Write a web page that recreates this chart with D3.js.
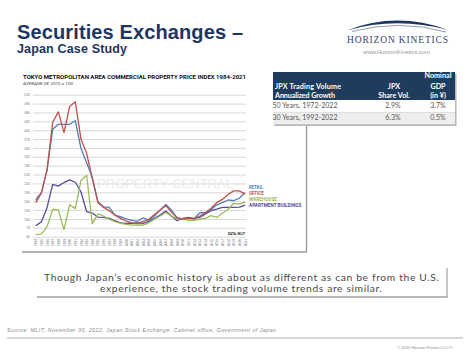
<!DOCTYPE html>
<html><head><meta charset="utf-8">
<script src="https://cdn.jsdelivr.net/npm/d3@7"></script>
<style>body{margin:0;background:#fff}svg{display:block}</style>
</head><body>
<script>
// ---- data ----
const years = [1984,1985,1986,1987,1988,1989,1990,1991,1992,1993,1994,1995,1996,1997,1998,1999,2000,2001,2002,2003,2004,2005,2006,2007,2008,2009,2010,2011,2012,2013,2014,2015,2016,2017,2018,2019,2020,2021];
const retail    = [165,189,265,403,420,420,420,432,339,290,241,158,141,139,113,108,100,95,92,104,95,110,130,149,130,104,100,104,100,121,121,132,147,155,164,162,170,189];
const office    = [155,187,265,427,462,392,480,496,370,322,237,155,139,128,113,102,93,87,85,92,99,115,130,145,123,104,100,102,100,110,121,136,155,166,183,195,195,184];
const warehouse = [48,49,74,132,131,63,148,135,230,247,84,117,110,99,91,85,82,79,80,79,87,99,110,122,110,100,100,95,95,99,102,111,105,119,132,153,150,157];
const apartment = [77,90,138,217,211,223,232,224,192,125,120,106,105,102,94,87,85,85,87,85,92,102,113,127,110,94,102,105,102,105,117,128,133,139,139,139,140,147];
const seriesNames = ["RETAIL","OFFICE","WAREHOUSE","APARTMENT BUILDINGS"];
const yTicks = [40,70,100,130,160,190,220,250,280,310,340,370,400,430,460,490,520];
const tableHeader = [["JPX Trading Volume","Annualized Growth"],["JPX","Share Vol."],["Nominal","GDP","(in ¥)"]];
const tableRows = [["50 Years, 1972-2022","2.9%","3.7%"],["30 Years, 1992-2022","6.3%","0.5%"]];

const W=474,H=355;
const svg=d3.select("body").append("svg").attr("width",W).attr("height",H);
const navy="#1d3660";

// ---- slide title ----
svg.append("text").attr("x",17).attr("y",39).attr("font-family","Liberation Sans, Arial, sans-serif")
  .attr("font-weight","bold").attr("font-size",20).attr("fill",navy).attr("textLength",226).attr("lengthAdjust","spacing")
  .text("Securities Exchanges –");
svg.append("text").attr("x",17).attr("y",53).attr("font-family","Liberation Sans, Arial, sans-serif")
  .attr("font-weight","bold").attr("font-size",12.5).attr("fill",navy).attr("textLength",110).attr("lengthAdjust","spacing")
  .text("Japan Case Study");

// ---- logo ----
svg.append("path").attr("d","M347,30.5 Q396,11 448,30 Q396,16.5 347,30.5 Z").attr("fill",navy);
svg.append("path").attr("d","M352,31.5 Q400,19 446,32").attr("fill","none").attr("stroke","#4a5a80").attr("stroke-width",0.6);
svg.append("text").attr("x",347).attr("y",43).attr("font-family","Liberation Serif, DejaVu Serif, serif")
  .attr("font-size",9.5).attr("fill","#36446a").attr("textLength",101).attr("lengthAdjust","spacing").text("HORIZON KINETICS");
svg.append("text").attr("x",363).attr("y",54).attr("font-family","Liberation Sans, Arial, sans-serif")
  .attr("font-size",6).attr("fill","#9a9a9a").attr("textLength",67).attr("lengthAdjust","spacing").text("www.HorizonKinetics.com");

// ---- chart image frame (shadow edges) ----
svg.append("line").attr("x1",22).attr("x2",307).attr("y1",252).attr("y2",252).attr("stroke","#9a9a9a").attr("stroke-width",1.3);
svg.append("line").attr("x1",306.5).attr("x2",306.5).attr("y1",120).attr("y2",252).attr("stroke","#9a9a9a").attr("stroke-width",1.3);

// ---- chart ----
const x=d3.scalePoint().domain(years).range([35.7,245]);
const y=d3.scaleLinear().domain([40,520]).range([236.7,94.7]);
const g=svg.append("g");

svg.append("text").attr("x",23).attr("y",78.7).attr("font-family","Liberation Sans Narrow, Roboto, sans-serif")
  .attr("font-weight","bold").attr("font-size",6).attr("fill","#111").attr("textLength",223).attr("lengthAdjust","spacingAndGlyphs")
  .text("TOKYO METROPOLITAN AREA COMMERCIAL PROPERTY PRICE INDEX 1984-2021");
svg.append("text").attr("x",23).attr("y",85).attr("font-family","Liberation Sans Narrow, Roboto, sans-serif")
  .attr("font-size",3.6).attr("fill","#444").attr("textLength",50).attr("lengthAdjust","spacingAndGlyphs")
  .text("AVERAGE OF 2010 = 100");

const yAxis=d3.axisLeft(y).tickValues(yTicks).tickSize(-(246-33)).tickPadding(3);
const ya=g.append("g").attr("transform","translate(33,0)").call(yAxis);
ya.select(".domain").remove();
ya.selectAll(".tick line").attr("stroke","#d4d4d4").attr("stroke-width",0.9);
ya.selectAll(".tick text").attr("font-size",3.4).attr("fill","#777").attr("font-family","Liberation Sans, Arial, sans-serif");

// x labels
const xa=g.append("g").attr("transform","translate(0,238.5)").call(d3.axisBottom(x).tickSize(0).tickPadding(0));
xa.select(".domain").remove();
xa.selectAll(".tick text").attr("font-size",3.3).attr("fill","#777").attr("font-family","Liberation Sans, Arial, sans-serif")
  .attr("text-anchor","end").attr("dy","0.32em").attr("transform","rotate(-90)").attr("y",0).attr("x",-0.5);

// watermark
svg.append("text").attr("x",97).attr("y",188).attr("font-family","Liberation Sans, Arial, sans-serif")
  .attr("font-size",13.5).attr("fill","#eaeaea").attr("textLength",136).attr("lengthAdjust","spacingAndGlyphs").text("PROPERTY CENTRAL");

const series=[{v:retail,c:"#4f7fb8"},{v:office,c:"#c0504d"},{v:warehouse,c:"#9bbb59"},{v:apartment,c:"#594b9c"}];
const line=d3.line().x((d,i)=>x(years[i])).y(d=>y(d));
[3,2,0,1].forEach(k=>{
  g.append("path").attr("d",line(series[k].v)).attr("fill","none").attr("stroke",series[k].c).attr("stroke-width",1.3).attr("stroke-linejoin","round");
});

// legend
const legY=[189.3,195.3,200.8,206.7], legW=[14,14.7,28,52.3];
seriesNames.forEach((n,i)=>{
  svg.append("text").attr("x",249).attr("y",legY[i]).attr("font-family","Liberation Sans Narrow, Roboto, sans-serif")
    .attr("font-weight","bold").attr("font-size",4.6).attr("fill",series[i].c).attr("textLength",legW[i]).attr("lengthAdjust","spacingAndGlyphs").text(n);
});
svg.append("text").attr("x",228).attr("y",234.5).attr("font-family","Liberation Sans Narrow, Roboto, sans-serif")
  .attr("font-weight","bold").attr("font-size",3.6).attr("fill","#222").attr("textLength",17).attr("lengthAdjust","spacingAndGlyphs").text("DATA: MLIT");

// ---- table ----
const tx0=273, tx1=455;
svg.append("rect").attr("x",tx0+1.5).attr("y",73.5).attr("width",tx1-tx0).attr("height",124.5-72).attr("fill","#b8b8b8");
svg.append("rect").attr("x",tx0).attr("y",72).attr("width",tx1-tx0).attr("height",28).attr("fill","#1f3b5e");
svg.append("rect").attr("x",tx0).attr("y",100).attr("width",tx1-tx0).attr("height",12.3).attr("fill","#ffffff");
svg.append("rect").attr("x",tx0).attr("y",112.3).attr("width",tx1-tx0).attr("height",12).attr("fill","#eeeeee");
svg.append("line").attr("x1",tx0).attr("x2",tx1).attr("y1",112.3).attr("y2",112.3).attr("stroke","#d8d8d8").attr("stroke-width",0.6);
const hf="Lato, Open Sans, sans-serif";
const hdr=[{x:275,a:"start",ys:[89.3,97.7],w:[66,60]},{x:394,a:"middle",ys:[89.3,97.7]},{x:438,a:"middle",ys:[78.3,89.3,97.7]}];
tableHeader.forEach((col,ci)=>{
  col.forEach((t,li)=>{
    const el=svg.append("text").attr("x",hdr[ci].x).attr("y",hdr[ci].ys[li]).attr("text-anchor",hdr[ci].a)
      .attr("font-family",hf).attr("font-weight","bold").attr("font-size",7.2).attr("fill","#fff").text(t);
    if(hdr[ci].w) el.attr("textLength",hdr[ci].w[li]).attr("lengthAdjust","spacing");
  });
});
const rowY=[108,120.2];
tableRows.forEach((r,ri)=>{
  svg.append("text").attr("x",272.5).attr("y",rowY[ri]).attr("font-family",hf).attr("font-size",7).attr("fill","#595959")
    .attr("textLength",65).attr("lengthAdjust","spacing").text(r[0]);
  svg.append("text").attr("x",393).attr("y",rowY[ri]).attr("text-anchor","middle").attr("font-family",hf).attr("font-size",7).attr("fill","#595959").text(r[1]);
  svg.append("text").attr("x",438).attr("y",rowY[ri]).attr("text-anchor","middle").attr("font-family",hf).attr("font-size",7).attr("fill","#595959").text(r[2]);
});

// ---- callout ----
svg.append("line").attr("x1",37).attr("x2",447.5).attr("y1",297).attr("y2",297).attr("stroke","#a0a0a0").attr("stroke-width",1.4);
svg.append("line").attr("x1",447).attr("x2",447).attr("y1",268).attr("y2",297.5).attr("stroke","#a0a0a0").attr("stroke-width",1.2);
const cf="Lato, Open Sans, sans-serif";
svg.append("text").attr("x",241.5).attr("y",280.7).attr("text-anchor","middle").attr("font-family",cf).attr("font-size",10.3)
  .attr("fill","#4a4a4a").attr("textLength",395).attr("lengthAdjust","spacing")
  .text("Though Japan’s economic history is about as different as can be from the U.S.");
svg.append("text").attr("x",241).attr("y",292.3).attr("text-anchor","middle").attr("font-family",cf).attr("font-size",10.3)
  .attr("fill","#4a4a4a").attr("textLength",282).attr("lengthAdjust","spacing")
  .text("experience, the stock trading volume trends are similar.");

// ---- source / footer ----
svg.append("text").attr("x",7).attr("y",331.7).attr("font-family","Liberation Sans, Arial, sans-serif").attr("font-style","italic")
  .attr("font-size",5.3).attr("fill","#8a8a8a").attr("textLength",269).attr("lengthAdjust","spacing")
  .text("Source: MLIT, November 30, 2022, Japan Stock Exchange, Cabinet office, Government of Japan");
svg.append("line").attr("x1",7).attr("x2",463).attr("y1",338).attr("y2",338).attr("stroke","#a6a6a6").attr("stroke-width",0.9);
svg.append("text").attr("x",397).attr("y",349).attr("font-family","Liberation Sans, Arial, sans-serif")
  .attr("font-size",4).attr("fill","#8a8a8a").attr("textLength",55.5).attr("lengthAdjust","spacing")
  .text("© 2023 Horizon Kinetics LLC®");
</script>
</body></html>
